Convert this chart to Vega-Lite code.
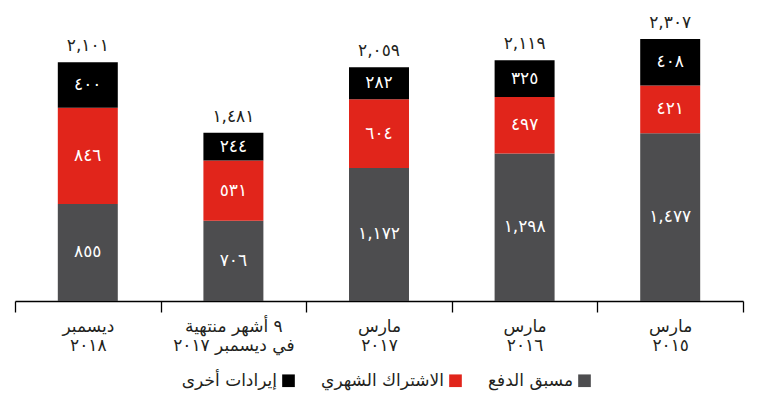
{
  "$schema": "https://vega.github.io/schema/vega-lite/v6.json",
  "width": 728,
  "height": 291,
  "autosize": {"type": "none"},
  "padding": {"left": 15, "top": 10, "right": 22, "bottom": 110},
  "config": {"view": {"stroke": null}, "font": "DejaVu Sans"},
  "datasets": {
    "segs": [
      {"cat": "ديسمبر\n٢٠١٨", "series": "مسبق الدفع", "k": 1, "value": 855, "label": "٨٥٥"},
      {"cat": "ديسمبر\n٢٠١٨", "series": "الاشتراك الشهري", "k": 2, "value": 846, "label": "٨٤٦"},
      {"cat": "ديسمبر\n٢٠١٨", "series": "إيرادات أخرى", "k": 3, "value": 400, "label": "٤٠٠"},
      {"cat": "٩ أشهر منتهية\nفي ديسمبر ٢٠١٧", "series": "مسبق الدفع", "k": 1, "value": 706, "label": "٧٠٦"},
      {"cat": "٩ أشهر منتهية\nفي ديسمبر ٢٠١٧", "series": "الاشتراك الشهري", "k": 2, "value": 531, "label": "٥٣١"},
      {"cat": "٩ أشهر منتهية\nفي ديسمبر ٢٠١٧", "series": "إيرادات أخرى", "k": 3, "value": 244, "label": "٢٤٤"},
      {"cat": "مارس\n٢٠١٧", "series": "مسبق الدفع", "k": 1, "value": 1172, "label": "١,١٧٢"},
      {"cat": "مارس\n٢٠١٧", "series": "الاشتراك الشهري", "k": 2, "value": 604, "label": "٦٠٤"},
      {"cat": "مارس\n٢٠١٧", "series": "إيرادات أخرى", "k": 3, "value": 282, "label": "٢٨٢"},
      {"cat": "مارس\n٢٠١٦", "series": "مسبق الدفع", "k": 1, "value": 1298, "label": "١,٢٩٨"},
      {"cat": "مارس\n٢٠١٦", "series": "الاشتراك الشهري", "k": 2, "value": 497, "label": "٤٩٧"},
      {"cat": "مارس\n٢٠١٦", "series": "إيرادات أخرى", "k": 3, "value": 325, "label": "٣٢٥"},
      {"cat": "مارس\n٢٠١٥", "series": "مسبق الدفع", "k": 1, "value": 1477, "label": "١,٤٧٧"},
      {"cat": "مارس\n٢٠١٥", "series": "الاشتراك الشهري", "k": 2, "value": 421, "label": "٤٢١"},
      {"cat": "مارس\n٢٠١٥", "series": "إيرادات أخرى", "k": 3, "value": 408, "label": "٤٠٨"}
    ],
    "totals": [
      {"cat": "ديسمبر\n٢٠١٨", "total": 2101, "label": "٢,١٠١"},
      {"cat": "٩ أشهر منتهية\nفي ديسمبر ٢٠١٧", "total": 1481, "label": "١,٤٨١"},
      {"cat": "مارس\n٢٠١٧", "total": 2059, "label": "٢,٠٥٩"},
      {"cat": "مارس\n٢٠١٦", "total": 2119, "label": "٢,١١٩"},
      {"cat": "مارس\n٢٠١٥", "total": 2307, "label": "٢,٣٠٧"}
    ]
  },
  "layer": [
    {
      "data": {"name": "segs"},
      "mark": {"type": "bar", "width": {"band": 0.412}},
      "encoding": {
        "x": {
          "field": "cat", "type": "nominal", "sort": null,
          "scale": {
            "domain": ["ديسمبر\n٢٠١٨", "٩ أشهر منتهية\nفي ديسمبر ٢٠١٧", "مارس\n٢٠١٧", "مارس\n٢٠١٦", "مارس\n٢٠١٥"],
            "paddingInner": 0, "paddingOuter": 0
          },
          "axis": {
            "title": null,
            "labelAngle": 0,
            "labelExpr": "split(datum.label, '\\n')",
            "labelFontSize": 17,
            "labelLineHeight": 19,
            "labelColor": "#231f20",
            "labelPadding": 6,
            "domainColor": "#000000",
            "domainWidth": 1.3,
            "tickColor": "#000000",
            "tickWidth": 1.3,
            "tickSize": 11,
            "tickBand": "extent"
          }
        },
        "y": {
          "field": "value", "type": "quantitative", "stack": "zero",
          "scale": {"domain": [0, 2562], "nice": false},
          "axis": null
        },
        "color": {
          "field": "series", "type": "nominal",
          "scale": {
            "domain": ["إيرادات أخرى", "الاشتراك الشهري", "مسبق الدفع"],
            "range": ["#000000", "#e1251b", "#4d4d4f"]
          },
          "legend": {
            "title": null,
            "orient": "none",
            "legendX": 265,
            "legendY": 362,
            "direction": "horizontal",
            "symbolType": "square",
            "symbolSize": 160,
            "symbolStrokeWidth": 0,
            "labelFontSize": 17,
            "labelColor": "#231f20",
            "labelAlign": "right",
            "labelOffset": -20,
            "columnPadding": 26
          }
        },
        "order": {"field": "k", "type": "quantitative"}
      }
    },
    {
      "data": {"name": "segs"},
      "transform": [
        {"stack": "value", "groupby": ["cat"], "sort": [{"field": "k"}], "as": ["v0", "v1"]},
        {"calculate": "(datum.v0 + datum.v1) / 2", "as": "mid"}
      ],
      "mark": {"type": "text", "color": "#ffffff", "fontSize": 17, "baseline": "middle"},
      "encoding": {
        "x": {"field": "cat", "type": "nominal", "sort": null},
        "y": {"field": "mid", "type": "quantitative"},
        "text": {"field": "label"}
      }
    },
    {
      "data": {"name": "totals"},
      "mark": {"type": "text", "color": "#231f20", "fontSize": 17, "baseline": "bottom", "dy": -7},
      "encoding": {
        "x": {"field": "cat", "type": "nominal", "sort": null},
        "y": {"field": "total", "type": "quantitative"},
        "text": {"field": "label"}
      }
    }
  ]
}
